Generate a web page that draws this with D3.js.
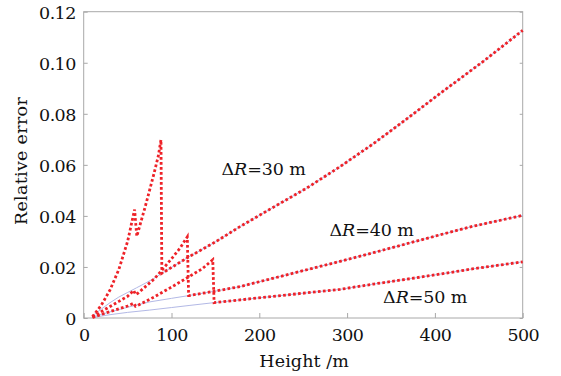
<!DOCTYPE html>
<html>
<head>
<meta charset="utf-8">
<script src="https://cdn.jsdelivr.net/npm/d3@7"></script>
<style>
  html, body { margin: 0; padding: 0; background: #ffffff; }
  svg { display: block; }
  text { font-family: "DejaVu Serif", serif; fill: #111; }
</style>
</head>
<body>
<div id="chart"></div>
<script>
// ---- Data ----
const xTicks = [0, 100, 200, 300, 400, 500];
const yTicks = [0, 0.02, 0.04, 0.06, 0.08, 0.10, 0.12];
const xLabel = "Height /m";
const yLabel = "Relative error";

// theoretical curves (thin blue)
const blue30 = [[10,0.0008],[20,0.0035],[30,0.0060],[40,0.0082],[50,0.0100],[60,0.0118],[70,0.0136],[80,0.0155],[89,0.0175],[120,0.0240],[150,0.0298],[178,0.0358],[215,0.0432],[254,0.0509],[292,0.0593],[330,0.0683],[368,0.0780],[406,0.0880],[455,0.1005],[500,0.1127]];
const blue40 = [[10,0.0004],[30,0.0024],[50,0.0042],[75,0.0063],[100,0.0077],[120,0.0088],[151,0.0106],[178,0.0123],[230,0.0168],[292,0.0222],[330,0.0256],[368,0.0291],[406,0.0326],[444,0.0360],[500,0.0402]];
const blue50 = [[10,0.0002],[30,0.0013],[50,0.0022],[75,0.0031],[100,0.0041],[120,0.0049],[148,0.0060],[178,0.0071],[230,0.0090],[292,0.0112],[330,0.0133],[368,0.0152],[406,0.0172],[444,0.0193],[500,0.0220]];

// simulated curves (red dotted), low-height part; above the jump they follow the theory
const red30Low = [[10,0.0005],[20,0.0050],[30,0.0110],[40,0.0190],[50,0.0300],[58,0.0425],[59,0.0380],[60.5,0.0320],[65,0.0375],[70,0.0435],[75,0.0500],[80,0.0565],[85,0.0635],[88,0.0698],[89,0.0175]];
const red40Low = [[10,0.0003],[20,0.0025],[30,0.0045],[40,0.0065],[50,0.0085],[57,0.0108],[59,0.0092],[62,0.0098],[70,0.0122],[80,0.0152],[88,0.0183],[100,0.0232],[110,0.0275],[118,0.0318],[119.5,0.0088]];
const red50Low = [[10,0.0002],[20,0.0014],[30,0.0025],[40,0.0036],[50,0.0047],[57,0.0058],[59,0.0046],[62,0.0050],[80,0.0082],[100,0.0121],[120,0.0162],[135,0.0193],[147,0.0228],[148.5,0.0060]];

const seriesNames = ["ΔR=30 m", "ΔR=40 m", "ΔR=50 m"];
const labelAnchors = [[157, 0.0560], [280, 0.0320], [341, 0.0058]]; // [height, error] of label baseline start

// ---- Layout ----
const W = 561, H = 376;
const L = 83.7, R = 522.7, T = 11.7, B = 318;
const FONT = "'DejaVu Serif', serif";
const FS = "17.5px";

const svg = d3.select("#chart").append("svg").attr("width", W).attr("height", H);

const x = d3.scaleLinear().domain([0, 500]).range([L, R]);
const y = d3.scaleLinear().domain([0, 0.12]).range([B, T]);

const line = d3.line().x(d => x(d[0])).y(d => y(d[1]));

// frame
svg.append("rect").attr("x", L).attr("y", T).attr("width", R - L).attr("height", B - T)
  .attr("fill", "none").attr("stroke", "#a8a8a8").attr("stroke-width", 1);

// axes
const fmtY = d => d === 0 ? "0" : d3.format(".2f")(d);
const xAxis = svg.append("g").attr("transform", `translate(0,${B})`)
  .call(d3.axisBottom(x).tickValues(xTicks).tickSize(-5).tickPadding(11).tickFormat(d3.format("d")));
const yAxis = svg.append("g").attr("transform", `translate(${L},0)`)
  .call(d3.axisLeft(y).tickValues(yTicks).tickSize(-4).tickPadding(8).tickFormat(fmtY));
const yAxisR = svg.append("g").attr("transform", `translate(${R},0)`)
  .call(d3.axisRight(y).tickValues(yTicks).tickSize(-3).tickFormat(""));
[xAxis, yAxis, yAxisR].forEach(g => {
  g.attr("font-family", null).attr("font-size", null);
  g.select(".domain").remove();
  g.selectAll(".tick line").attr("stroke", "#a8a8a8");
  g.selectAll("text").style("font-family", FONT).style("font-size", FS)
    .style("letter-spacing", "-0.6px").attr("fill", "#111");
});
yAxis.selectAll(".tick text").attr("dy", "0.36em");

// blue theoretical lines
[blue30, blue40, blue50].forEach(data => {
  svg.append("path").datum(data).attr("d", line)
    .attr("fill", "none").attr("stroke", "#a9b0e2").attr("stroke-width", 0.9);
});

// red simulated dotted lines
[[red30Low, blue30], [red40Low, blue40], [red50Low, blue50]].forEach(([low, theo]) => {
  const jx = low[low.length - 1][0];
  const data = low.concat(theo.filter(d => d[0] > jx));
  svg.append("path").datum(data).attr("d", line)
    .attr("fill", "none").attr("stroke", "#ee2228").attr("stroke-width", 2.8)
    .attr("stroke-dasharray", "2.7,2.3").attr("stroke-linecap", "butt");
});

// annotations
seriesNames.forEach((name, i) => {
  const t = svg.append("text")
    .attr("x", x(labelAnchors[i][0])).attr("y", y(labelAnchors[i][1]))
    .style("font-family", FONT).style("font-size", FS).style("letter-spacing", "-0.1px");
  t.append("tspan").text("Δ");
  t.append("tspan").style("font-style", "italic").text("R");
  t.append("tspan").text(name.slice(2));
});

// axis titles
svg.append("text").attr("x", (L + R) / 2 + 1).attr("y", 367)
  .attr("text-anchor", "middle").style("font-family", FONT).style("font-size", FS).style("letter-spacing", "0.1px")
  .text(xLabel);
svg.append("text").attr("transform", `translate(27,161) rotate(-90)`)
  .attr("text-anchor", "middle").style("font-family", FONT).style("font-size", FS).style("letter-spacing", "0.3px")
  .text(yLabel);
</script>
</body>
</html>
